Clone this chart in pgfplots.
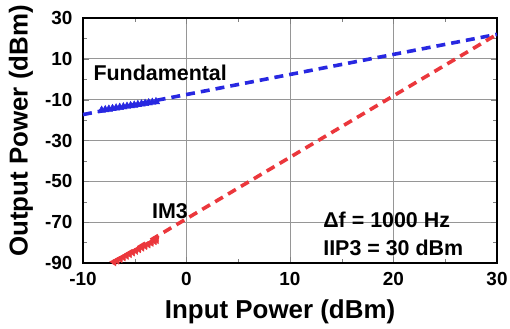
\documentclass[border=0pt]{standalone}
\usepackage{pgfplots}
\pgfplotsset{compat=1.18}
\usepackage{fontspec}
\setmainfont{Liberation Sans}
\definecolor{fblue}{RGB}{40,40,225}
\definecolor{fred}{RGB}{235,55,60}
\definecolor{gridgray}{RGB}{150,150,150}
\begin{document}
\begin{tikzpicture}
\useasboundingbox (-83bp,-66bp) rectangle (427bp,263bp);
\begin{axis}[
  scale only axis, width=414bp, height=245bp,
  xmin=-10, xmax=30, ymin=-90, ymax=30,
  xtick={-10,0,...,30}, ytick={-90,-70,...,30},
  minor x tick num=1, minor y tick num=1,
  tick align=inside,
  grid=major,
  grid style={draw=gridgray, line width=0.9pt},
  axis line style={line width=1.3pt},
  major tick length=6bp, minor tick length=4bp,
  /pgf/number format/assume math mode=true,
  ticklabel style={font=\fontsize{19}{22}\selectfont\bfseries},
  xticklabel style={yshift=-6bp},
  yticklabel style={xshift=-7bp},
  label style={font=\fontsize{26}{28}\selectfont\bfseries},
  xlabel={Input Power (dBm)},
  ylabel={Output Power (dBm)},
  xlabel style={at={(axis description cs:0.476,0)}, anchor=center, yshift=-49bp},
  ylabel style={at={(axis description cs:0,0.539)}, anchor=center, yshift=62bp},
  clip=false,
]
\addplot[fblue, line width=3.6bp, dash pattern=on 9bp off 6bp] coordinates {(-10,-17.3) (30,22)};
\addplot[fred, line width=3.6bp, dash pattern=on 9bp off 6bp] coordinates {(-7.2,-90) (30,22)};
\addplot[only marks, mark=triangle*, mark size=4.4pt, fblue] coordinates {
(-8.2,-15.2) (-7.85,-14.92) (-7.5,-14.64) (-7.15,-14.36) (-6.8,-14.08) (-6.45,-13.8)
(-6.1,-13.52) (-5.75,-13.24) (-5.4,-12.96) (-5.05,-12.68) (-4.7,-12.4) (-4.35,-12.12)
(-4.0,-11.84) (-3.65,-11.56) (-3.3,-11.28) (-2.95,-11.0)};
\addplot[only marks, mark=triangle*, mark size=4.4pt, fred, mark options={rotate=-35}] coordinates {
(-7.0,-89.5) (-6.7,-88.7) (-6.4,-87.9) (-6.1,-87.1) (-5.8,-86.3) (-5.5,-85.5)
(-5.2,-84.7) (-4.9,-83.9) (-4.6,-83.1) (-4.3,-82.3) (-4.0,-81.55) (-3.7,-80.75)
(-3.4,-79.95) (-3.1,-79.15) (-2.9,-78.6)};
\node[anchor=west, font=\fontsize{21.5}{24}\selectfont\bfseries, inner sep=0pt] at (axis cs:-9.0,3.0) {Fundamental};
\node[anchor=center, font=\fontsize{21.5}{24}\selectfont\bfseries, inner sep=0pt] at (axis cs:-1.6,-64.6) {IM3};
\node[anchor=west, font=\fontsize{21.5}{24}\selectfont\bfseries, inner sep=0pt] at (axis cs:13.2,-69) {Δf = 1000 Hz};
\node[anchor=west, font=\fontsize{21.5}{24}\selectfont\bfseries, inner sep=0pt] at (axis cs:13.2,-82.7) {IIP3 = 30 dBm};
\end{axis}
\end{tikzpicture}
\end{document}
